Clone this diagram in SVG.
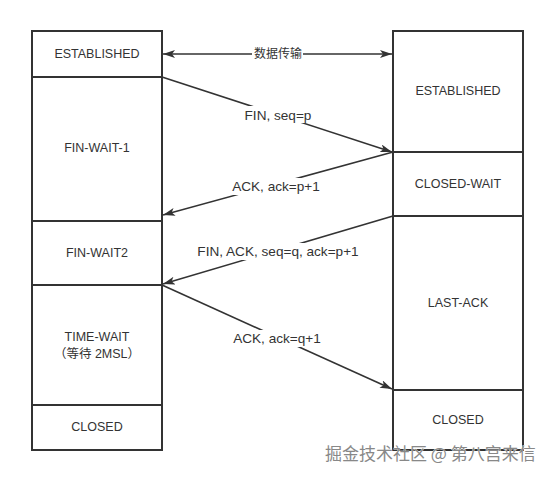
<svg xmlns="http://www.w3.org/2000/svg" width="553" height="477" viewBox="0 0 553 477">
<style>
.box{fill:#fff;stroke:#333;stroke-width:2}
.t{font-family:"Liberation Sans","Noto Sans CJK SC",sans-serif;font-size:12.5px;fill:#333;text-anchor:middle;dominant-baseline:central}
.lbl{font-family:"Liberation Sans","Noto Sans CJK SC",sans-serif;font-size:13.6px;fill:#333;text-anchor:middle;dominant-baseline:central}
.ln{stroke:#333;stroke-width:1.6;fill:none}
.bg{fill:#fff}
.wm{font-family:"Noto Sans CJK SC",sans-serif;font-size:17px;fill:#888;stroke:#fff;stroke-width:0.6;paint-order:stroke}
</style>
<defs>
<marker id="ah" viewBox="0 0 12 8" refX="12" refY="4" markerWidth="12" markerHeight="8" markerUnits="userSpaceOnUse" orient="auto-start-reverse">
<path d="M0,0 L12,4 L0,8 L3,4 Z" fill="#333"/>
</marker>
</defs>
<rect width="553" height="477" fill="#fff"/>
<g id="left-established"><rect class="box" x="32" y="31" width="130" height="46"/><text class="t" x="97" y="54">ESTABLISHED</text></g>
<g id="fin-wait-1"><rect class="box" x="32" y="77" width="130" height="144"/><text class="t" x="97" y="148">FIN-WAIT-1</text></g>
<g id="fin-wait2"><rect class="box" x="32" y="221" width="130" height="64"/><text class="t" x="97" y="253">FIN-WAIT2</text></g>
<g id="time-wait"><rect class="box" x="32" y="285" width="130" height="120"/><text class="t" x="97" y="337">TIME-WAIT</text><text class="t" x="97" y="354">（等待 2MSL）</text></g>
<g id="left-closed"><rect class="box" x="32" y="405" width="130" height="45"/><text class="t" x="97" y="427">CLOSED</text></g>
<g id="right-established"><rect class="box" x="393" y="31" width="130" height="121"/><text class="t" x="458" y="91">ESTABLISHED</text></g>
<g id="closed-wait"><rect class="box" x="393" y="152" width="130" height="64"/><text class="t" x="458" y="184">CLOSED-WAIT</text></g>
<g id="last-ack"><rect class="box" x="393" y="216" width="130" height="174"/><text class="t" x="458" y="303">LAST-ACK</text></g>
<g id="right-closed"><rect class="box" x="393" y="390" width="130" height="60"/><text class="t" x="458" y="420">CLOSED</text></g>
<g id="connectors">
<line class="ln" x1="163" y1="54" x2="392" y2="54" marker-start="url(#ah)" marker-end="url(#ah)"/>
<rect class="bg" x="252" y="46" width="51" height="16"/>
<text class="lbl" x="278" y="54" style="font-size:12px">数据传输</text>
<line class="ln" x1="162" y1="77" x2="392" y2="152" marker-end="url(#ah)"/>
<rect class="bg" x="243" y="106" width="70" height="17"/>
<text class="lbl" x="278" y="115">FIN, seq=p</text>
<line class="ln" x1="393" y1="152" x2="163" y2="215" marker-end="url(#ah)"/>
<rect class="bg" x="231" y="178" width="91" height="17"/>
<text class="lbl" x="276" y="186">ACK, ack=p+1</text>
<line class="ln" x1="393" y1="216" x2="163" y2="284" marker-end="url(#ah)"/>
<rect class="bg" x="195" y="243" width="166" height="17"/>
<text class="lbl" x="278" y="251">FIN, ACK, seq=q, ack=p+1</text>
<line class="ln" x1="162" y1="285" x2="392" y2="389" marker-end="url(#ah)"/>
<rect class="bg" x="232" y="330" width="91" height="17"/>
<text class="lbl" x="277" y="338">ACK, ack=q+1</text>
</g>
<text class="wm" x="325" y="460">掘金技术社区 @ 第八宫来信</text>
</svg>
